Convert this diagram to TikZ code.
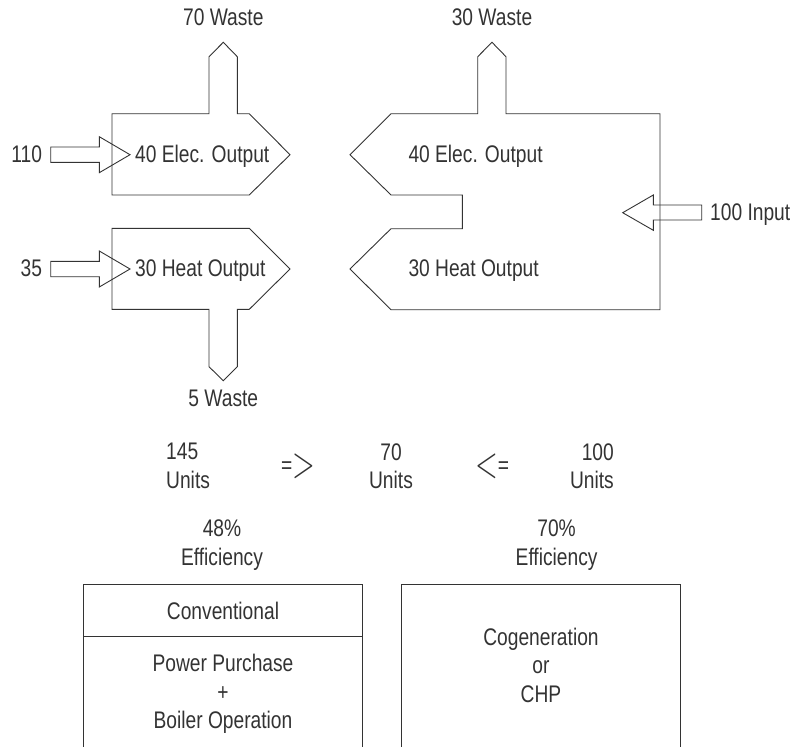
\documentclass[tikz,border=0pt]{standalone}
\usepackage{fontspec}
\setmainfont[FakeStretch=0.8]{Liberation Sans}
\usepackage{tikz}
\usetikzlibrary{positioning}

\newcommand{\bigangle}[1]{\raisebox{-3.5pt}{\fontsize{24}{24}\selectfont\scalebox{1.2}[1.8]{$#1$}}}

\begin{document}
\begin{tikzpicture}[x=1pt, y=-1pt,
  flow/.style={draw=black!80, line width=0.9pt, line join=miter},
  frame/.style={draw=black!80, line width=0.9pt},
  lbl/.style={font=\fontsize{24}{28.5}\selectfont, text=black!80, inner sep=0pt}]
\useasboundingbox (0,0) rectangle (796,747);
% conventional: electricity and heat
\draw[flow] (112,113.7) -- (209,113.7) -- (209,56.7) -- (223.3,42.3) -- (237.3,56.7)
  -- (237.3,113.7) -- (249.3,113.7) -- (290,154.7) -- (249.3,195) -- (112,195) -- cycle;
\draw[flow] (112,228.3) -- (249.3,228.3) -- (290,269) -- (249.3,309.3) -- (237.3,309.3)
  -- (237.3,366.7) -- (223.3,380.7) -- (209,366.7) -- (209,309.3) -- (112,309.3) -- cycle;
\draw[flow] (50.7,147) -- (99.3,147) -- (99.3,136.7) -- (130,154.7) -- (99.3,172.7)
  -- (99.3,162.3) -- (50.7,162.3) -- cycle;
\draw[flow] (50.7,261.3) -- (99.3,261.3) -- (99.3,251) -- (130,269) -- (99.3,287)
  -- (99.3,276.7) -- (50.7,276.7) -- cycle;
% cogeneration
\draw[flow] (350,154.7) -- (391,113.7) -- (477.7,113.7) -- (477.7,56.7) -- (492,42.3)
  -- (506,56.7) -- (506,113.7) -- (660,113.7) -- (660,309.7) -- (391,309.7) -- (350,269)
  -- (391,228.7) -- (462.3,228.7) -- (462.3,195) -- (391,195) -- cycle;
\draw[flow] (701.7,205) -- (653.3,205) -- (653.3,195) -- (622.7,212.7) -- (653.3,230.3)
  -- (653.3,220) -- (701.7,220) -- cycle;
\node[lbl, anchor=base] (w70) at (223.3,25) {70 Waste};
\node[lbl, anchor=base] (w30) at (492,25) {30 Waste};
\node[lbl, anchor=base] (w5) at (223.3,406.7) {5 Waste};
\node[lbl, anchor=base east] (in110) at (42.3,162.7) {110};
\node[lbl, anchor=base east] (in35) at (42.3,276) {35};
\node[lbl, anchor=base west] (in100) at (710,220.7) {100 Input};
\node[lbl, anchor=base west] (elecA) at (135,162.7) {40 Elec. Output};
\node[lbl, anchor=base west] (heatA) at (135,276) {30 Heat Output};
\node[lbl, anchor=base west] (elecB) at (408.3,162.7) {40 Elec. Output};
\node[lbl, anchor=base west] (heatB) at (408.3,276) {30 Heat Output};
% totals
\node[lbl, align=left, anchor=west] (unitsA) at (166,466) {145\\Units};
\node[lbl, align=center] (unitsC) at (391,466) {70\\Units};
\node[lbl, align=right, anchor=east] (unitsB) at (614,466) {100\\Units};
\node[lbl] (gt) at (298,466) {=\bigangle{>}};
\node[lbl] (lt) at (492,466) {\bigangle{<}=};
\node[lbl, align=center] (effA) at (222,545) {48\%\\Efficiency};
\node[lbl, align=center] (effB) at (556.6,545) {70\%\\Efficiency};
% boxes
\draw[frame] (83.3,747) -- (83.3,584) -- (362.7,584) -- (362.7,747);
\draw[frame] (83.3,636.7) -- (362.7,636.7);
\draw[frame] (401.2,747) -- (401.2,584) -- (680,584) -- (680,747);
\node[lbl] (conv) at (223,611) {Conventional};
\node[lbl, align=center] (purch) at (223,694) {Power Purchase\\+\\Boiler Operation};
\node[lbl, align=center] (cogen) at (541,665) {Cogeneration\\or\\CHP};
\end{tikzpicture}
\end{document}
